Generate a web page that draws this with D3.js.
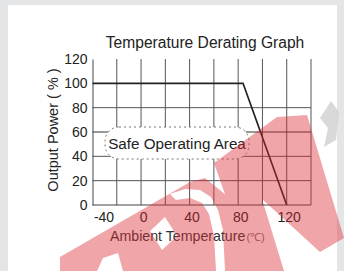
<!DOCTYPE html>
<html>
<head>
<meta charset="utf-8">
<script src="https://cdn.jsdelivr.net/npm/d3@7"></script>
<style>
  html, body { margin: 0; padding: 0; background: #e4e5e7; }
  svg { display: block; font-family: "Liberation Sans", Arial, sans-serif; }
  .axis text { fill: #222; font-size: 14px; }
  .axis path { stroke: #444; }
</style>
</head>
<body>
<div id="graph"></div>
<script>
// chart values
const tempC = [-40, 84, 120];          // ambient temperature (°C)
const powerPct = [100, 100, 0];        // output power (%)
const xTicks = [-40, 0, 40, 80, 120];
const yTicks = [0, 20, 40, 60, 80, 100, 120];
const gridX = [-20, 0, 20, 40, 60, 80, 100, 120, 140];
const gridY = [20, 40, 60, 80];

const W = 344, H = 271;

const svg = d3.select("#graph").append("svg")
  .attr("width", W)
  .attr("height", H);

// white panel on grey page
svg.append("rect").attr("x", 8).attr("y", 5).attr("width", 329).attr("height", H - 5).attr("fill", "#fff");

const x = d3.scaleLinear().domain([-40, 140]).range([92.5, 311]);
const y = d3.scaleLinear().domain([0, 120]).range([205, 59]);

// grid
svg.append("g").selectAll("line.gx")
  .data(gridX)
  .enter().append("line")
  .attr("x1", d => x(d)).attr("x2", d => x(d))
  .attr("y1", y(0)).attr("y2", y(120))
  .attr("stroke", "#555").attr("stroke-width", 1);

svg.append("g").selectAll("line.gy")
  .data(gridY)
  .enter().append("line")
  .attr("x1", x(-40)).attr("x2", x(140))
  .attr("y1", d => y(d)).attr("y2", d => y(d))
  .attr("stroke", d => d === 60 ? "#333" : "#555").attr("stroke-width", 1);

// axes
const yAxis = d3.axisLeft(y).tickValues(yTicks).tickFormat(d => String(d))
  .tickSize(0).tickSizeOuter(0).tickPadding(5);
svg.append("g")
  .attr("class", "axis")
  .attr("transform", "translate(" + x(-40) + ",0)")
  .call(yAxis);

const xAxis = d3.axisBottom(x).tickValues(xTicks).tickFormat(d => String(d))
  .tickSize(0).tickSizeOuter(0).tickPadding(7);
const gx = svg.append("g")
  .attr("class", "axis")
  .attr("transform", "translate(0," + y(0) + ")")
  .call(xAxis);
gx.select(".domain").attr("d", "M" + x(-40) + ",0H" + x(140));
gx.selectAll(".tick text").attr("dx", d => d === -40 ? 11 : 2);

// derating curve
const line = d3.line()
  .x((d, i) => x(tempC[i]))
  .y(d => y(d));

svg.append("path")
  .datum(powerPct)
  .attr("d", line)
  .attr("fill", "none")
  .attr("stroke", "#222")
  .attr("stroke-width", 1.7);

// safe operating area label
const box = svg.append("g");
box.append("rect")
  .attr("x", 105).attr("y", 127)
  .attr("width", 144).attr("height", 32)
  .attr("rx", 14)
  .attr("fill", "#fff")
  .attr("stroke", "#666")
  .attr("stroke-width", 0.9)
  .attr("stroke-dasharray", "2,3");
box.append("text")
  .attr("x", 177).attr("y", 148.5)
  .attr("text-anchor", "middle")
  .attr("font-size", 15.2)
  .attr("fill", "#222")
  .text("Safe Operating Area");

// titles
svg.append("text")
  .attr("x", 205).attr("y", 47.5)
  .attr("text-anchor", "middle")
  .attr("font-size", 15.6)
  .attr("fill", "#222")
  .text("Temperature Derating Graph");

svg.append("text")
  .attr("transform", "translate(58,130) rotate(-90)")
  .attr("text-anchor", "middle")
  .attr("font-size", 14.5)
  .attr("fill", "#222")
  .text("Output Power ( % )");

const xt = svg.append("text")
  .attr("x", 110).attr("y", 241)
  .attr("font-size", 14.2)
  .attr("fill", "#333");
xt.append("tspan").text("Ambient Temperature");
xt.append("tspan").attr("font-size", 11).attr("fill", "#777").attr("dx", 1).text("(℃)");

// watermark overlay
const wm = svg.append("g").attr("fill", "#dc2a34").attr("opacity", 0.42);
wm.append("path")
  .attr("fill-rule", "evenodd")
  .attr("d", "M60,271L60,257L190,182L205,178L232,200L254,271Z" +
             "M150,231L165,217L177,236L162,250Z" +
             "M97,271L103,258L118,253L123,271Z" +
             "M170,194L185,189L200,190L211,197L218,210L223,230L225,271L216,271L214,236L209,214L202,203L190,198L176,200Z");
wm.append("path")
  .attr("d", "M214,163L277,117L307,115L344,238L320,252L262,199L284,271L252,271Z");
svg.append("path")
  .attr("d", "M320,118L331,101L339,112L336,140L324,147L328,128Z")
  .attr("fill", "#cfcfcf").attr("opacity", 0.8);
</script>
</body>
</html>
